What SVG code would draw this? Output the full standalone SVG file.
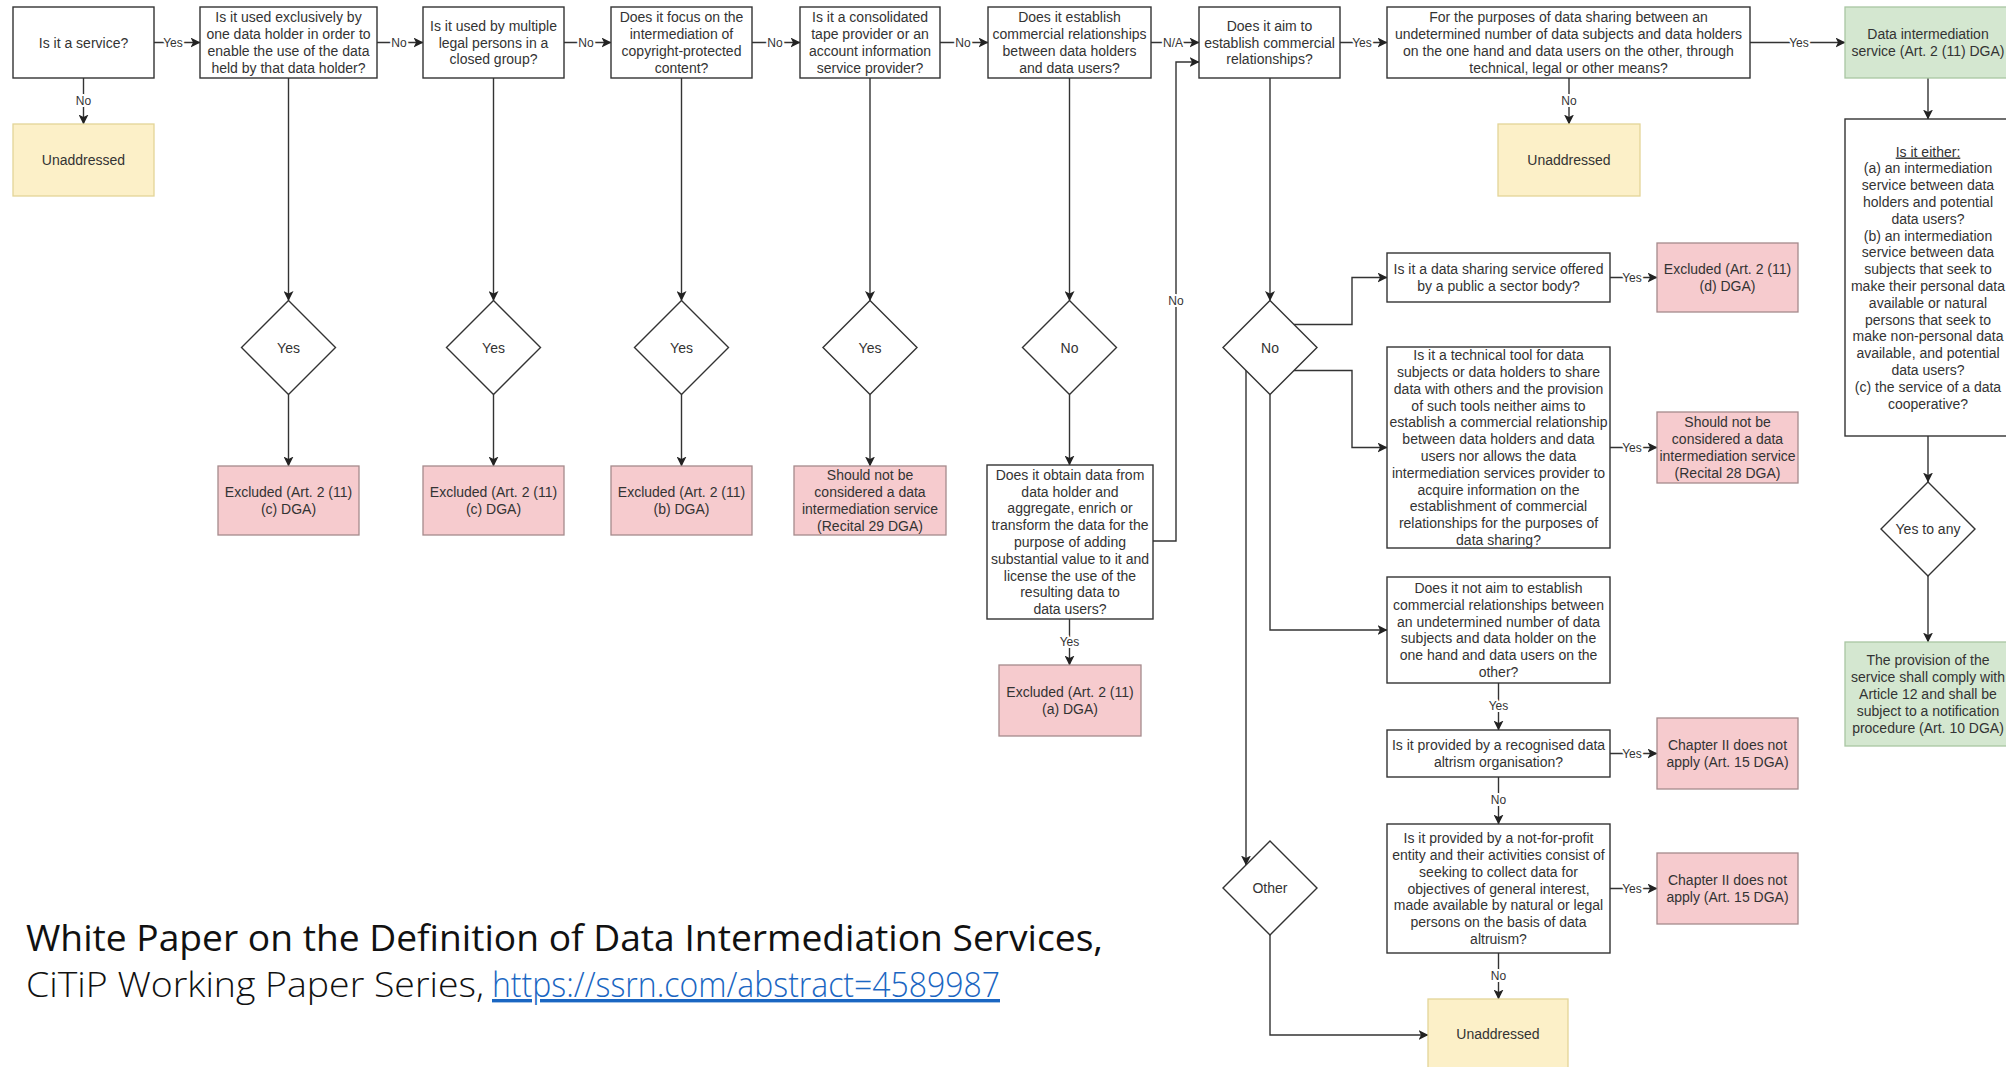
<svg xmlns="http://www.w3.org/2000/svg" width="2006" height="1067" viewBox="0 0 2006 1067">
  <style>
    .box { fill: #ffffff; stroke: #333333; stroke-width: 1.4; }
    .red { fill: #f6cbce; stroke: #a58a8c; stroke-width: 1.3; }
    .yel { fill: #fcf0c8; stroke: #e3d497; stroke-width: 1.3; }
    .grn { fill: #d4e7d0; stroke: #a9c6a2; stroke-width: 1.3; }
    .dia { fill: #ffffff; stroke: #333333; stroke-width: 1.4; }
    .t { font-family: "Liberation Sans", Arial, sans-serif; font-size: 14px; fill: #333333; text-anchor: middle; }
    .edge { fill: none; stroke: #333333; stroke-width: 1.4; }
    .lbl { font-family: "Liberation Sans", Arial, sans-serif; font-size: 12px; fill: #333333; text-anchor: middle; stroke: #ffffff; stroke-width: 4px; paint-order: stroke; stroke-linejoin: round; }
    .title { font-family: "Open Sans", "Noto Sans", sans-serif; fill: #111111; }
  </style>
  <defs>
    <marker id="arrow" viewBox="0 0 10 10" refX="9.5" refY="5" markerWidth="10" markerHeight="10" markerUnits="userSpaceOnUse" orient="auto">
      <path d="M0,0 L10,5 L0,10 L2.5,5 Z" fill="#222222"/>
    </marker>
  </defs>

  <rect width="2006" height="1067" fill="#ffffff"/>

  <!-- connectors -->
  <g id="connectors">
    <g class="edge" marker-end="url(#arrow)">
      <path d="M154,42.5 H200"/>
      <path d="M377,42.5 H423"/>
      <path d="M564,42.5 H611"/>
      <path d="M752,42.5 H800"/>
      <path d="M940,42.5 H988"/>
      <path d="M1151,42.5 H1199"/>
      <path d="M1340,42.5 H1387"/>
      <path d="M1750,42.5 H1845"/>
      <path d="M83.5,78 V124"/>
      <path d="M1569,78 V124"/>
      <path d="M288.5,78 V300.5"/>
      <path d="M288.5,394.5 V466"/>
      <path d="M493.5,78 V300.5"/>
      <path d="M493.5,394.5 V466"/>
      <path d="M681.5,78 V300.5"/>
      <path d="M681.5,394.5 V466"/>
      <path d="M870,78 V300.5"/>
      <path d="M870,394.5 V466"/>
      <path d="M1069.5,78 V300.5"/>
      <path d="M1069.5,394.5 V465"/>
      <path d="M1069.5,619 V665"/>
      <path d="M1153,541 H1176 V62 H1199"/>
      <path d="M1270,78 V300.5"/>
      <path d="M1294,324.5 H1352 V277.5 H1387"/>
      <path d="M1294,370.5 H1352 V447.5 H1387"/>
      <path d="M1270,394.5 V630 H1387"/>
      <path d="M1246,370 V865"/>
      <path d="M1270,935 V1035 H1428"/>
      <path d="M1610,277.5 H1657"/>
      <path d="M1610,447.5 H1657"/>
      <path d="M1498.5,683 V730"/>
      <path d="M1610,753.5 H1657"/>
      <path d="M1498.5,777 V824"/>
      <path d="M1610,888.5 H1657"/>
      <path d="M1498.5,953 V999"/>
      <path d="M1928,78 V119"/>
      <path d="M1928,436 V482"/>
      <path d="M1928,576 V642"/>
    </g>
    <g>
      <text class="lbl" x="173" y="46.5">Yes</text>
      <text class="lbl" x="399" y="46.5">No</text>
      <text class="lbl" x="586" y="46.5">No</text>
      <text class="lbl" x="775" y="46.5">No</text>
      <text class="lbl" x="963" y="46.5">No</text>
      <text class="lbl" x="1173" y="46.5">N/A</text>
      <text class="lbl" x="1362" y="46.5">Yes</text>
      <text class="lbl" x="1799" y="46.5">Yes</text>
      <text class="lbl" x="83.5" y="105">No</text>
      <text class="lbl" x="1569" y="105">No</text>
      <text class="lbl" x="1069.5" y="646">Yes</text>
      <text class="lbl" x="1176" y="305">No</text>
      <text class="lbl" x="1632" y="281.5">Yes</text>
      <text class="lbl" x="1632" y="451.5">Yes</text>
      <text class="lbl" x="1498.5" y="710">Yes</text>
      <text class="lbl" x="1632" y="757.5">Yes</text>
      <text class="lbl" x="1498.5" y="804">No</text>
      <text class="lbl" x="1632" y="892.5">Yes</text>
      <text class="lbl" x="1498.5" y="980">No</text>
    </g>
  </g>

  <!-- top row of questions -->
  <g id="q-service">
    <rect class="box" x="13" y="7" width="141" height="71"/>
    <text class="t" x="83.5" y="47.5">Is it a service?</text>
  </g>
  <g id="unaddressed-1">
    <rect class="yel" x="13" y="124" width="141" height="72"/>
    <text class="t" x="83.5" y="165">Unaddressed</text>
  </g>
  <g id="q-one-holder">
    <rect class="box" x="200" y="7" width="177" height="71"/>
    <text class="t" x="288.5" y="22.3">Is it used exclusively by<tspan x="288.5" dy="16.8">one data holder in order to</tspan><tspan x="288.5" dy="16.8">enable the use of the data</tspan><tspan x="288.5" dy="16.8">held by that data holder?</tspan></text>
  </g>
  <g id="q-closed-group">
    <rect class="box" x="423" y="7" width="141" height="71"/>
    <text class="t" x="493.5" y="30.7">Is it used by multiple<tspan x="493.5" dy="16.8">legal persons in a</tspan><tspan x="493.5" dy="16.8">closed group?</tspan></text>
  </g>
  <g id="q-copyright">
    <rect class="box" x="611" y="7" width="141" height="71"/>
    <text class="t" x="681.5" y="22.3">Does it focus on the<tspan x="681.5" dy="16.8">intermediation of</tspan><tspan x="681.5" dy="16.8">copyright-protected</tspan><tspan x="681.5" dy="16.8">content?</tspan></text>
  </g>
  <g id="q-tape-provider">
    <rect class="box" x="800" y="7" width="140" height="71"/>
    <text class="t" x="870" y="22.3">Is it a consolidated<tspan x="870" dy="16.8">tape provider or an</tspan><tspan x="870" dy="16.8">account information</tspan><tspan x="870" dy="16.8">service provider?</tspan></text>
  </g>
  <g id="q-establish">
    <rect class="box" x="988" y="7" width="163" height="71"/>
    <text class="t" x="1069.5" y="22.3">Does it establish<tspan x="1069.5" dy="16.8">commercial relationships</tspan><tspan x="1069.5" dy="16.8">between data holders</tspan><tspan x="1069.5" dy="16.8">and data users?</tspan></text>
  </g>
  <g id="q-aim">
    <rect class="box" x="1199" y="7" width="141" height="71"/>
    <text class="t" x="1269.5" y="30.7">Does it aim to<tspan x="1269.5" dy="16.8">establish commercial</tspan><tspan x="1269.5" dy="16.8">relationships?</tspan></text>
  </g>
  <g id="q-purposes">
    <rect class="box" x="1387" y="7" width="363" height="71"/>
    <text class="t" x="1568.5" y="22.3">For the purposes of data sharing between an<tspan x="1568.5" dy="16.8">undetermined number of data subjects and data holders</tspan><tspan x="1568.5" dy="16.8">on the one hand and data users on the other, through</tspan><tspan x="1568.5" dy="16.8">technical, legal or other means?</tspan></text>
  </g>
  <g id="unaddressed-2">
    <rect class="yel" x="1498" y="124" width="142" height="72"/>
    <text class="t" x="1569" y="165">Unaddressed</text>
  </g>
  <g id="dis">
    <rect class="grn" x="1845" y="7" width="166" height="71"/>
    <text class="t" x="1928" y="39.1">Data intermediation<tspan x="1928" dy="16.8">service (Art. 2 (11) DGA)</tspan></text>
  </g>

  <!-- decision diamonds -->
  <g id="d-yes-1">
    <polygon class="dia" points="288.5,300.5 335.5,347.5 288.5,394.5 241.5,347.5"/>
    <text class="t" x="288.5" y="352.5">Yes</text>
  </g>
  <g id="d-yes-2">
    <polygon class="dia" points="493.5,300.5 540.5,347.5 493.5,394.5 446.5,347.5"/>
    <text class="t" x="493.5" y="352.5">Yes</text>
  </g>
  <g id="d-yes-3">
    <polygon class="dia" points="681.5,300.5 728.5,347.5 681.5,394.5 634.5,347.5"/>
    <text class="t" x="681.5" y="352.5">Yes</text>
  </g>
  <g id="d-yes-4">
    <polygon class="dia" points="870,300.5 917,347.5 870,394.5 823,347.5"/>
    <text class="t" x="870" y="352.5">Yes</text>
  </g>
  <g id="d-no-1">
    <polygon class="dia" points="1069.5,300.5 1116.5,347.5 1069.5,394.5 1022.5,347.5"/>
    <text class="t" x="1069.5" y="352.5">No</text>
  </g>
  <g id="d-no-2">
    <polygon class="dia" points="1270,300.5 1317,347.5 1270,394.5 1223,347.5"/>
    <text class="t" x="1270" y="352.5">No</text>
  </g>
  <g id="d-other">
    <polygon class="dia" points="1270,841 1317,888 1270,935 1223,888"/>
    <text class="t" x="1270" y="893">Other</text>
  </g>
  <g id="d-yes-any">
    <polygon class="dia" points="1928,482 1975,529 1928,576 1881,529"/>
    <text class="t" x="1928" y="534">Yes to any</text>
  </g>

  <!-- outcomes of the left branches -->
  <g id="excl-c-1">
    <rect class="red" x="218" y="466" width="141" height="69"/>
    <text class="t" x="288.5" y="497.1">Excluded (Art. 2 (11)<tspan x="288.5" dy="16.8">(c) DGA)</tspan></text>
  </g>
  <g id="excl-c-2">
    <rect class="red" x="423" y="466" width="141" height="69"/>
    <text class="t" x="493.5" y="497.1">Excluded (Art. 2 (11)<tspan x="493.5" dy="16.8">(c) DGA)</tspan></text>
  </g>
  <g id="excl-b">
    <rect class="red" x="611" y="466" width="141" height="69"/>
    <text class="t" x="681.5" y="497.1">Excluded (Art. 2 (11)<tspan x="681.5" dy="16.8">(b) DGA)</tspan></text>
  </g>
  <g id="recital-29">
    <rect class="red" x="794" y="466" width="152" height="69"/>
    <text class="t" x="870" y="480.3">Should not be<tspan x="870" dy="16.8">considered a data</tspan><tspan x="870" dy="16.8">intermediation service</tspan><tspan x="870" dy="16.8">(Recital 29 DGA)</tspan></text>
  </g>
  <g id="q-obtain">
    <rect class="box" x="987" y="465" width="166" height="154"/>
    <text class="t" x="1070" y="479.8">Does it obtain data from<tspan x="1070" dy="16.8">data holder and</tspan><tspan x="1070" dy="16.8">aggregate, enrich or</tspan><tspan x="1070" dy="16.8">transform the data for the</tspan><tspan x="1070" dy="16.8">purpose of adding</tspan><tspan x="1070" dy="16.8">substantial value to it and</tspan><tspan x="1070" dy="16.8">license the use of the</tspan><tspan x="1070" dy="16.8">resulting data to</tspan><tspan x="1070" dy="16.8">data users?</tspan></text>
  </g>
  <g id="excl-a">
    <rect class="red" x="999" y="665" width="142" height="71"/>
    <text class="t" x="1070" y="697.1">Excluded (Art. 2 (11)<tspan x="1070" dy="16.8">(a) DGA)</tspan></text>
  </g>

  <!-- branches of the "does not aim" case -->
  <g id="q-public-body">
    <rect class="box" x="1387" y="253" width="223" height="49"/>
    <text class="t" x="1498.5" y="274.1">Is it a data sharing service offered<tspan x="1498.5" dy="16.8">by a public a sector body?</tspan></text>
  </g>
  <g id="excl-d">
    <rect class="red" x="1657" y="243" width="141" height="69"/>
    <text class="t" x="1727.5" y="274.1">Excluded (Art. 2 (11)<tspan x="1727.5" dy="16.8">(d) DGA)</tspan></text>
  </g>
  <g id="q-technical-tool">
    <rect class="box" x="1387" y="347" width="223" height="201"/>
    <text class="t" x="1498.5" y="360.1">Is it a technical tool for data<tspan x="1498.5" dy="16.8">subjects or data holders to share</tspan><tspan x="1498.5" dy="16.8">data with others and the provision</tspan><tspan x="1498.5" dy="16.8">of such tools neither aims to</tspan><tspan x="1498.5" dy="16.8">establish a commercial relationship</tspan><tspan x="1498.5" dy="16.8">between data holders and data</tspan><tspan x="1498.5" dy="16.8">users nor allows the data</tspan><tspan x="1498.5" dy="16.8">intermediation services provider to</tspan><tspan x="1498.5" dy="16.8">acquire information on the</tspan><tspan x="1498.5" dy="16.8">establishment of commercial</tspan><tspan x="1498.5" dy="16.8">relationships for the purposes of</tspan><tspan x="1498.5" dy="16.8">data sharing?</tspan></text>
  </g>
  <g id="recital-28">
    <rect class="red" x="1657" y="412" width="141" height="71"/>
    <text class="t" x="1727.5" y="427.3">Should not be<tspan x="1727.5" dy="16.8">considered a data</tspan><tspan x="1727.5" dy="16.8">intermediation service</tspan><tspan x="1727.5" dy="16.8">(Recital 28 DGA)</tspan></text>
  </g>
  <g id="q-not-aim">
    <rect class="box" x="1387" y="577" width="223" height="106"/>
    <text class="t" x="1498.5" y="593">Does it not aim to establish<tspan x="1498.5" dy="16.8">commercial relationships between</tspan><tspan x="1498.5" dy="16.8">an undetermined number of data</tspan><tspan x="1498.5" dy="16.8">subjects and data holder on the</tspan><tspan x="1498.5" dy="16.8">one hand and data users on the</tspan><tspan x="1498.5" dy="16.8">other?</tspan></text>
  </g>
  <g id="q-recognised">
    <rect class="box" x="1387" y="730" width="223" height="47"/>
    <text class="t" x="1498.5" y="750.1">Is it provided by a recognised data<tspan x="1498.5" dy="16.8">altrism organisation?</tspan></text>
  </g>
  <g id="chapter-ii-1">
    <rect class="red" x="1657" y="718" width="141" height="71"/>
    <text class="t" x="1727.5" y="750.1">Chapter II does not<tspan x="1727.5" dy="16.8">apply (Art. 15 DGA)</tspan></text>
  </g>
  <g id="q-not-for-profit">
    <rect class="box" x="1387" y="824" width="223" height="129"/>
    <text class="t" x="1498.5" y="843.1">Is it provided by a not-for-profit<tspan x="1498.5" dy="16.8">entity and their activities consist of</tspan><tspan x="1498.5" dy="16.8">seeking to collect data for</tspan><tspan x="1498.5" dy="16.8">objectives of general interest,</tspan><tspan x="1498.5" dy="16.8">made available by natural or legal</tspan><tspan x="1498.5" dy="16.8">persons on the basis of data</tspan><tspan x="1498.5" dy="16.8">altruism?</tspan></text>
  </g>
  <g id="chapter-ii-2">
    <rect class="red" x="1657" y="853" width="141" height="71"/>
    <text class="t" x="1727.5" y="885.1">Chapter II does not<tspan x="1727.5" dy="16.8">apply (Art. 15 DGA)</tspan></text>
  </g>
  <g id="unaddressed-3">
    <rect class="yel" x="1428" y="999" width="140" height="72"/>
    <text class="t" x="1498" y="1039">Unaddressed</text>
  </g>

  <!-- data intermediation service column -->
  <g id="q-either">
    <rect class="box" x="1845" y="119" width="166" height="317"/>
    <text class="t" x="1928" y="156.5"><tspan text-decoration="underline">Is it either:</tspan><tspan x="1928" dy="16.8">(a) an intermediation</tspan><tspan x="1928" dy="16.8">service between data</tspan><tspan x="1928" dy="16.8">holders and potential</tspan><tspan x="1928" dy="16.8">data users?</tspan><tspan x="1928" dy="16.8">(b) an intermediation</tspan><tspan x="1928" dy="16.8">service between data</tspan><tspan x="1928" dy="16.8">subjects that seek to</tspan><tspan x="1928" dy="16.8">make their personal data</tspan><tspan x="1928" dy="16.8">available or natural</tspan><tspan x="1928" dy="16.8">persons that seek to</tspan><tspan x="1928" dy="16.8">make non-personal data</tspan><tspan x="1928" dy="16.8">available, and potential</tspan><tspan x="1928" dy="16.8">data users?</tspan><tspan x="1928" dy="16.8">(c) the service of a data</tspan><tspan x="1928" dy="16.8">cooperative?</tspan></text>
  </g>
  <g id="notification">
    <rect class="grn" x="1845" y="642" width="166" height="104"/>
    <text class="t" x="1928" y="665.4">The provision of the<tspan x="1928" dy="16.8">service shall comply with</tspan><tspan x="1928" dy="16.8">Article 12 and shall be</tspan><tspan x="1928" dy="16.8">subject to a notification</tspan><tspan x="1928" dy="16.8">procedure (Art. 10 DGA)</tspan></text>
  </g>

  <!-- citation -->
  <g id="citation">
    <text class="title" x="26" y="951" font-size="36" textLength="1077" lengthAdjust="spacingAndGlyphs">White Paper on the Definition of Data Intermediation Services,</text>
    <text class="title" x="26" y="997" font-size="34" font-weight="300" fill="#2a2a2a" textLength="458" lengthAdjust="spacingAndGlyphs">CiTiP Working Paper Series,</text>
    <text class="title" x="492" y="997" font-size="34" font-weight="300" style="fill:#1a66c2" text-decoration="underline" textLength="508" lengthAdjust="spacingAndGlyphs">https://ssrn.com/abstract=4589987</text>
  </g>
</svg>
